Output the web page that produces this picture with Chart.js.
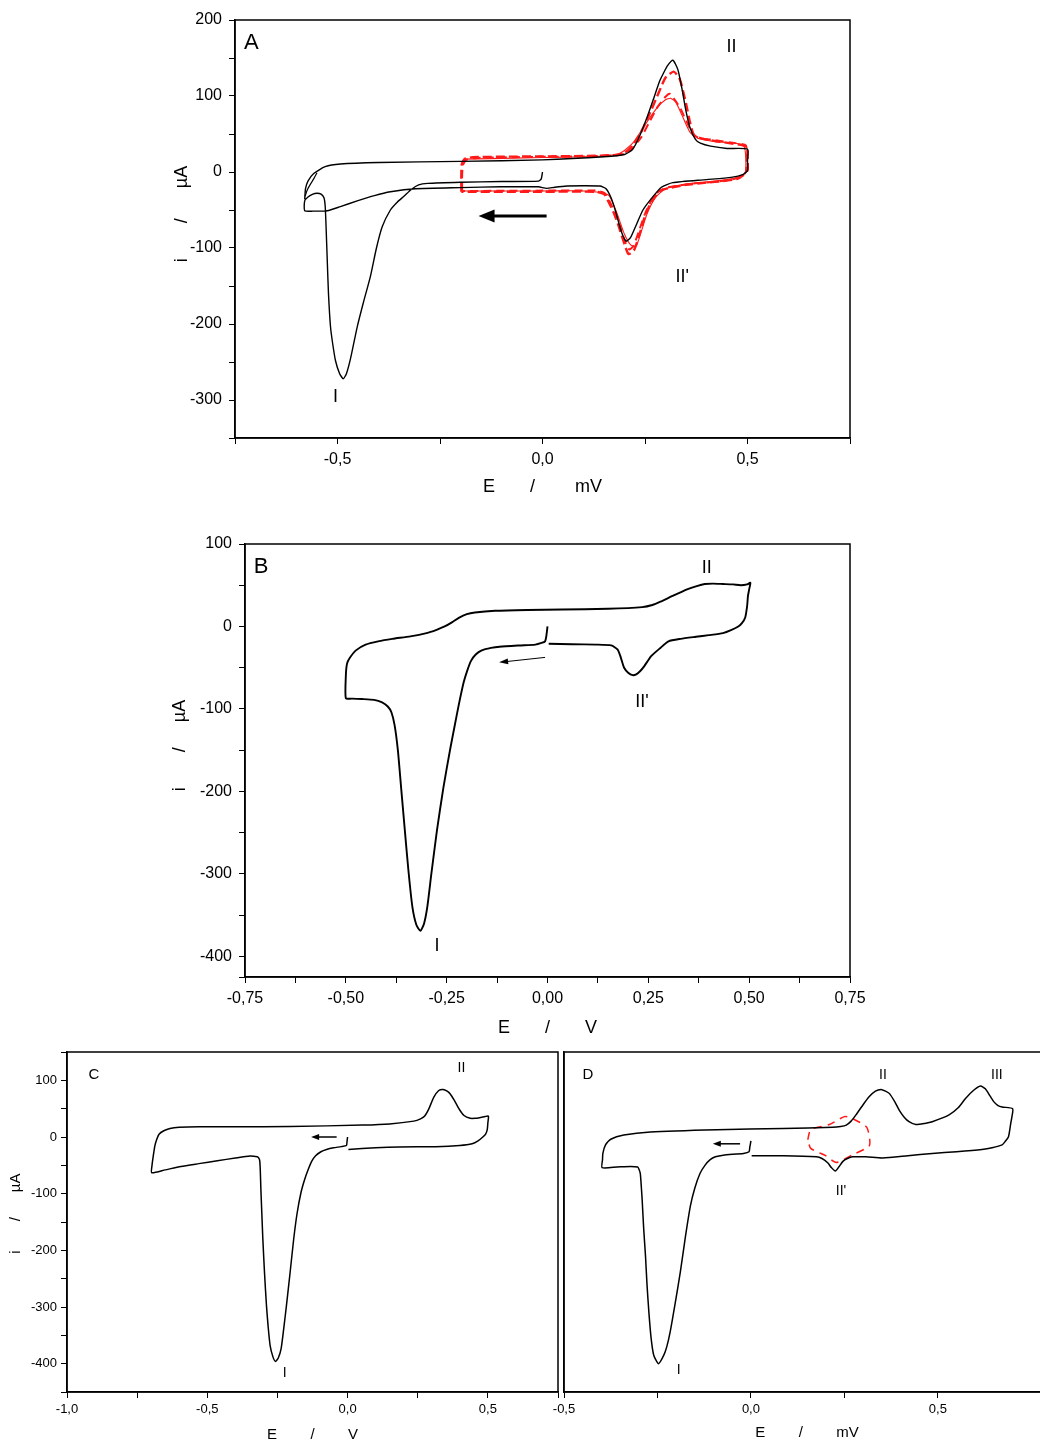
<!DOCTYPE html>
<html>
<head>
<meta charset="utf-8">
<script src="https://cdn.jsdelivr.net/npm/chart.js@4.4.1/dist/chart.umd.min.js"></script>
<style>
  html, body { margin: 0; padding: 0; background: #fff; overflow: hidden; width: 1040px; height: 1444px; }
  canvas { position: absolute; }
</style>
</head>
<body>
<canvas id="chartA" width="760" height="505" style="left:140px;top:0px"></canvas>
<canvas id="chartB" width="760" height="530" style="left:140px;top:520px"></canvas>
<canvas id="chartC" width="562" height="404" style="left:0px;top:1040px"></canvas>
<canvas id="chartD" width="515" height="404" style="left:545px;top:1040px"></canvas>
<script>
// Panel A - black trace (E in V, i in µA)
const aBlackE = [0, -0.003, -0.01, -0.1, -0.2, -0.28, -0.302, -0.32, -0.338, -0.355, -0.371, -0.391, -0.405, -0.42, -0.437, -0.452, -0.468, -0.478, -0.486, -0.495, -0.505, -0.512, -0.517, -0.522, -0.525, -0.528, -0.53, -0.533, -0.54, -0.55, -0.56, -0.572, -0.58, -0.58,
  -0.56, -0.525, -0.493, -0.452, -0.41, -0.371, -0.31, -0.2, -0.1, -0.01, 0.01, 0.03, 0.06, 0.1, 0.14, 0.155, 0.168, 0.18, 0.192, 0.204, 0.215, 0.23, 0.245, 0.264, 0.29, 0.318, 0.4, 0.46, 0.49, 0.5, 0.5, 0.5,
  0.45, 0.41, 0.385, 0.373, 0.36, 0.35, 0.34, 0.33, 0.318, 0.305, 0.295, 0.286, 0.27, 0.253, 0.235, 0.22, 0.2, 0.15, 0.0, -0.2, -0.4, -0.493, -0.53, -0.558, -0.572, -0.578, -0.58];
const aBlackI = [0, -9, -12, -12.5, -13.5, -15, -17, -23, -32, -40, -50, -72, -100, -138, -172, -204, -245, -265, -272, -265, -248, -225, -204, -160, -116, -70, -45, -34, -29, -28, -29, -33, -38, -51,
  -51.5, -51, -45.5, -38, -31, -26, -22, -20.5, -19.5, -19.5, -21.5, -20, -18.5, -18, -18.5, -22, -35, -55, -78, -91, -86, -68, -50, -36, -20, -14, -10, -7, -3, 2, 15, 30,
  31, 34, 38, 43, 58, 80, 110, 135, 147, 140, 130, 120, 95, 69, 45, 30, 23, 20, 16, 14, 12.5, 10.5, 7, -2, -12, -22, -36];
const aBlack2E = [-0.55, -0.557, -0.566, -0.574, -0.579];
const aBlack2I = [-1, -8, -16, -24, -32];

// Panel A - red repeated cycles
const aRed1E = [-0.198, -0.198, -0.197, -0.19, -0.17, 0.0, 0.1, 0.18, 0.2, 0.22, 0.24, 0.26, 0.28, 0.3, 0.32, 0.335, 0.35, 0.36, 0.37, 0.39, 0.43, 0.48, 0.498, 0.5, 0.5, 0.49, 0.475, 0.44, 0.4, 0.35, 0.32, 0.29, 0.275, 0.26, 0.247, 0.235, 0.223, 0.21, 0.2, 0.185, 0.174, 0.16, 0.15, 0.13, 0.0, -0.198];
const aRed1I = [-26, -5, 10, 17, 19.5, 20.5, 21, 22.5, 25, 35, 52, 75, 100, 124, 132, 122, 90, 65, 48, 44, 40, 36, 33, 20, 2, -4, -9, -12, -14, -17, -20, -24, -32, -45, -63, -85, -103, -108, -95, -70, -54, -38, -29, -26, -26, -26];
const aRed2E = [-0.196, -0.196, -0.194, -0.186, -0.16, 0.0, 0.1, 0.18, 0.2, 0.22, 0.24, 0.26, 0.28, 0.3, 0.31, 0.32, 0.335, 0.35, 0.365, 0.38, 0.42, 0.47, 0.496, 0.498, 0.496, 0.485, 0.46, 0.42, 0.37, 0.33, 0.3, 0.28, 0.265, 0.25, 0.235, 0.222, 0.212, 0.2, 0.19, 0.178, 0.165, 0.152, 0.13, 0.0, -0.196];
const aRed2I = [-25, -4, 9, 16, 18.5, 20, 20.5, 22, 24, 32, 45, 65, 85, 99, 103, 97, 85, 68, 52, 45, 42, 38, 35, 18, 0, -6, -10, -13, -15, -18, -21, -27, -38, -55, -78, -97, -102, -90, -72, -55, -40, -28, -24.5, -24.5, -25];
const aRed3E = [-0.19, 0.0, 0.15, 0.19, 0.22, 0.25, 0.28, 0.3, 0.312, 0.325, 0.34, 0.36, 0.38, 0.42, 0.49, 0.495, 0.48, 0.42, 0.35, 0.3, 0.275, 0.255, 0.24, 0.228, 0.215, 0.2, 0.18, 0.16, 0.1, 0.0, -0.19];
const aRed3I = [17, 19, 21, 25, 38, 62, 85, 95, 97, 92, 75, 52, 44, 40, 35, 0, -7, -12, -16, -22, -34, -55, -80, -98, -96, -82, -52, -30, -25, -25, -25];

// Panel B
const bE = [0, -0.003, -0.006, -0.015, -0.03, -0.07, -0.119, -0.14, -0.163, -0.178, -0.19, -0.2, -0.208, -0.22, -0.23, -0.241, -0.258, -0.274, -0.288, -0.298, -0.306, -0.315, -0.325, -0.335, -0.345, -0.355, -0.363, -0.371, -0.379, -0.387, -0.396, -0.41, -0.43, -0.46, -0.485, -0.5,
  -0.5, -0.497, -0.49, -0.475, -0.451, -0.42, -0.385, -0.34, -0.3, -0.275, -0.255, -0.237, -0.22, -0.2, -0.18, -0.13, -0.05, 0.036, 0.15, 0.235, 0.26, 0.28, 0.31, 0.346, 0.37, 0.39, 0.41, 0.435, 0.46, 0.479, 0.495, 0.503,
  0.5, 0.497, 0.495, 0.49, 0.482, 0.473, 0.455, 0.435, 0.4, 0.368, 0.33, 0.3, 0.28, 0.257, 0.24, 0.23, 0.22, 0.211, 0.2, 0.19, 0.182, 0.174, 0.158, 0.12, 0.06, 0.003];
const bI = [0, -12, -18, -20, -22, -23, -24.5, -26, -29, -34, -42, -55, -68, -95, -120, -148, -195, -247, -300, -340, -360, -369, -362, -340, -295, -240, -195, -150, -120, -104, -97, -92, -89, -88, -87.5, -87,
  -60, -45, -38, -29, -22, -18, -15, -12, -8, -4, 0, 5, 10.5, 15, 17, 19, 20, 20.5, 21.5, 23.5, 26, 30, 37, 45, 49, 51.5, 52, 51.5, 51, 50, 51, 53,
  45, 37, 25, 10.5, 4, 0, -4.5, -8, -10.5, -12.5, -15, -18, -26, -36, -48, -54, -58, -59, -56, -50, -38, -28, -23, -22, -21.5, -21];

// Panel C
const cE = [0, -0.002, -0.004, -0.023, -0.05, -0.075, -0.095, -0.114, -0.128, -0.14, -0.153, -0.166, -0.18, -0.192, -0.205, -0.218, -0.228, -0.237, -0.247, -0.257, -0.266, -0.276, -0.283, -0.289, -0.296, -0.302, -0.306, -0.309, -0.311, -0.313, -0.317, -0.322, -0.348, -0.4, -0.464, -0.53, -0.594, -0.65, -0.698,
  -0.697, -0.693, -0.687, -0.68, -0.672, -0.655, -0.633, -0.6, -0.529, -0.4, -0.205, 0.054, 0.15, 0.236, 0.26, 0.275, 0.29, 0.307, 0.325, 0.34, 0.355, 0.366, 0.38, 0.398, 0.415, 0.437, 0.455, 0.47, 0.49, 0.502,
  0.5, 0.498, 0.492, 0.482, 0.465, 0.444, 0.4, 0.314, 0.184, 0.1, 0.003];
const cI = [0, -8, -15, -17, -19, -22, -26, -33, -43, -57, -75, -98, -135, -180, -240, -298, -340, -374, -390, -396, -388, -368, -335, -298, -240, -180, -130, -92, -60, -42, -37, -35, -33.5, -37, -42, -47, -52, -58, -63,
  -50, -35, -16, -4, 5, 11, 15, 17, 18, 18, 18.5, 21, 23, 28, 32, 37, 50, 70, 82, 84, 81, 76, 65, 49, 38, 33, 33, 34, 36, 37,
  25, 13.5, 5, 0, -7, -12, -15, -17, -17.5, -19, -22];

// Panel D
const dE = [0, -0.003, -0.005, -0.02, -0.074, -0.095, -0.109, -0.123, -0.136, -0.15, -0.162, -0.175, -0.189, -0.203, -0.216, -0.225, -0.233, -0.247, -0.26, -0.267, -0.273, -0.278, -0.282, -0.287, -0.291, -0.294, -0.296, -0.3, -0.303, -0.322, -0.358, -0.398,
  -0.397, -0.396, -0.389, -0.375, -0.34, -0.269, -0.091, 0.086, 0.219, 0.24, 0.255, 0.268, 0.281, 0.3, 0.316, 0.333, 0.348, 0.36, 0.37, 0.385, 0.397, 0.41, 0.423, 0.441, 0.465, 0.485, 0.53, 0.555, 0.574, 0.595, 0.614, 0.627, 0.64, 0.65, 0.66, 0.672, 0.7,
  0.698, 0.695, 0.689, 0.68, 0.672, 0.645, 0.618, 0.55, 0.485, 0.42, 0.352, 0.308, 0.272, 0.258, 0.246, 0.235, 0.226, 0.215, 0.206, 0.19, 0.175, 0.086, 0.002];
const dI = [-7, -18, -26, -29, -32, -35, -40, -50, -64, -90, -122, -175, -239, -295, -344, -370, -385, -400, -385, -355, -309, -260, -210, -160, -110, -80, -64, -56, -53, -52, -53, -54,
  -40, -29, -14, -4, 3.5, 9, 13, 15, 17, 18.5, 21, 28, 39, 57, 71, 81, 84, 81, 77, 62, 47, 35, 27, 22, 24, 27, 39, 52, 68, 82, 90, 85, 72, 62, 56, 53, 50,
  35, 24, 0.6, -8, -14, -19, -22, -26, -29, -33, -37, -35, -35, -38, -43, -53, -60, -54, -46, -38, -35, -33, -33];
const dRedE = [0.152, 0.16, 0.21, 0.25, 0.27, 0.31, 0.317, 0.27, 0.228, 0.2, 0.16, 0.152];
const dRedI = [-5, 13, 22, 36, 33, 17, -15, -32, -45, -33, -20, -5];

// labelled tick values
const aXLabels = [-0.5, 0, 0.5];
const aYLabels = [200, 100, 0, -100, -200, -300];
const bXLabels = [-0.75, -0.5, -0.25, 0, 0.25, 0.5, 0.75];
const bYLabels = [100, 0, -100, -200, -300, -400];
const cXLabels = [-1, -0.5, 0, 0.5];
const cYLabels = [100, 0, -100, -200, -300, -400];
const dXLabels = [-0.5, 0, 0.5];

const FONT = '"Liberation Sans", Arial, sans-serif';

function pts(es, is) {
    return es.map((e, k) => ({ x: e, y: is[k] }));
}

function fmt(v, labels, dec) {
    if (!labels.some(l => Math.abs(l - v) < 1e-6)) return '';
    if (Math.abs(v) < 1e-9) v = 0;
    if (dec === null) return String(Math.round(v));
    return v.toFixed(dec).replace('.', ',');
}

function line(es, is, color, width, dash) {
    return {
        data: pts(es, is),
        showLine: true,
        borderColor: color,
        borderWidth: width,
        borderDash: dash || [],
        pointRadius: 0,
        tension: 0.2,
        fill: false
    };
}

function axis(o) {
    return {
        type: 'linear',
        position: o.pos,
        min: o.min,
        max: o.max,
        afterFit: function (s) {
            if (o.pos === 'bottom') s.height = o.size; else s.width = o.size;
        },
        ticks: {
            display: o.labels !== null,
            stepSize: o.step,
            autoSkip: false,
            maxRotation: 0,
            color: '#000',
            padding: o.tpad,
            font: { family: FONT, size: o.fs },
            callback: v => o.labels ? fmt(v, o.labels, o.dec) : ''
        },
        grid: { drawOnChartArea: false, drawTicks: o.ticks !== false, tickLength: 6, color: '#000', lineWidth: 1 },
        border: { display: true, color: '#000', width: 1.5 },
        title: {
            display: !!o.title,
            text: o.title || '',
            color: '#000',
            font: { family: FONT, size: o.tfs },
            padding: { top: o.tpt || 0, bottom: o.tpb || 0 }
        }
    };
}

// Rahmen, Beschriftungen und Pfeile
const panelMarks = {
    id: 'panelMarks',
    afterDraw(chart, args, opts) {
        const ctx = chart.ctx;
        const xs = chart.scales.x, ys = chart.scales.y;
        const area = chart.chartArea;
        ctx.save();
        ctx.strokeStyle = '#000';
        ctx.fillStyle = '#000';
        ctx.lineWidth = 1.5;
        ctx.strokeRect(area.left, area.top, area.right - area.left, area.bottom - area.top);
        ctx.textAlign = 'center';
        ctx.textBaseline = 'middle';
        (opts.texts || []).forEach(t => {
            ctx.font = t.size + 'px ' + FONT;
            ctx.fillText(t.text, xs.getPixelForValue(t.e), ys.getPixelForValue(t.i));
        });
        (opts.arrows || []).forEach(a => {
            const x0 = xs.getPixelForValue(a.e0), y0 = ys.getPixelForValue(a.i0);
            const x1 = xs.getPixelForValue(a.e1), y1 = ys.getPixelForValue(a.i1);
            const ang = Math.atan2(y1 - y0, x1 - x0);
            const c = Math.cos(ang), s = Math.sin(ang);
            ctx.lineWidth = a.width;
            ctx.beginPath();
            ctx.moveTo(x0, y0);
            ctx.lineTo(x1 - c * a.head * 0.8, y1 - s * a.head * 0.8);
            ctx.stroke();
            ctx.beginPath();
            ctx.moveTo(x1, y1);
            ctx.lineTo(x1 - a.head * c + a.half * s, y1 - a.head * s - a.half * c);
            ctx.lineTo(x1 - a.head * c - a.half * s, y1 - a.head * s + a.half * c);
            ctx.closePath();
            ctx.fill();
        });
        ctx.restore();
    }
};
Chart.register(panelMarks);

function makeChart(id, datasets, padding, x, y, marks) {
    return new Chart(document.getElementById(id), {
        type: 'scatter',
        data: { datasets: datasets },
        options: {
            responsive: false,
            animation: false,
            devicePixelRatio: 1,
            layout: { padding: padding },
            plugins: { legend: { display: false }, tooltip: { enabled: false }, panelMarks: marks },
            scales: { x: x, y: y }
        }
    });
}

// Panel A
makeChart('chartA', [
    line(aBlackE, aBlackI, '#000', 1.4),
    line(aBlack2E, aBlack2I, '#000', 1.2),
    line(aRed3E, aRed3I, '#ff1a1a', 1.1),
    line(aRed2E, aRed2I, '#ff1a1a', 2, [8, 5]),
    line(aRed1E, aRed1I, '#ff1a1a', 2.4, [9, 4])
], { left: 0, top: 20, right: 50, bottom: 0 },
    axis({ pos: 'bottom', min: -0.75, max: 0.75, step: 0.25, labels: aXLabels, dec: 1, fs: 16, tpad: 6, size: 67,
        title: 'E       /        mV', tfs: 18, tpb: 7 }),
    axis({ pos: 'left', min: -350, max: 200, step: 50, labels: aYLabels, dec: null, fs: 16, tpad: 7, size: 95,
        title: '      i       /      µA', tfs: 18, tpt: 31 }),
    {
        texts: [
            { text: 'A', e: -0.71, i: 170, size: 22 },
            { text: 'II', e: 0.461, i: 164, size: 18 },
            { text: "II'", e: 0.341, i: -138, size: 18 },
            { text: 'I', e: -0.505, i: -296, size: 18 }
        ],
        arrows: [{ e0: 0.01, i0: -58, e1: -0.156, i1: -58, width: 3, head: 16, half: 6.5 }]
    });

// Panel B
makeChart('chartB', [
    line(bE, bI, '#000', 1.9)
], { left: 0, top: 24, right: 50, bottom: 0 },
    axis({ pos: 'bottom', min: -0.75, max: 0.75, step: 0.125, labels: bXLabels, dec: 2, fs: 16, tpad: 6, size: 73,
        title: 'E       /       V', tfs: 18, tpb: 11 }),
    axis({ pos: 'left', min: -425, max: 100, step: 50, labels: bYLabels, dec: null, fs: 16, tpad: 7, size: 105,
        title: '      i       /     µA', tfs: 18, tpt: 29 }),
    {
        texts: [
            { text: 'B', e: -0.71, i: 72.6, size: 22 },
            { text: 'II', e: 0.395, i: 71, size: 18 },
            { text: "II'", e: 0.234, i: -92, size: 18 },
            { text: 'I', e: -0.274, i: -387, size: 18 }
        ],
        arrows: [{ e0: -0.006, i0: -37.5, e1: -0.12, i1: -43.5, width: 1, head: 9, half: 3 }]
    });

// Panel C
makeChart('chartC', [
    line(cE, cI, '#000', 1.5)
], { left: 0, top: 12, right: 4, bottom: 0 },
    axis({ pos: 'bottom', min: -1, max: 0.75, step: 0.25, labels: cXLabels, dec: 1, fs: 13, tpad: 4, size: 52,
        title: 'E        /        V', tfs: 15, tpb: 0 }),
    axis({ pos: 'left', min: -450, max: 150, step: 50, labels: cYLabels, dec: null, fs: 13, tpad: 4, size: 67,
        title: '    i       /      µA', tfs: 15, tpt: 7 }),
    {
        texts: [
            { text: 'C', e: -0.904, i: 109, size: 15 },
            { text: 'II', e: 0.406, i: 121, size: 14 },
            { text: 'I', e: -0.224, i: -416, size: 14 }
        ],
        arrows: [{ e0: -0.039, i0: 0, e1: -0.13, i1: 0, width: 1.5, head: 8, half: 3 }]
    });

// Panel D
makeChart('chartD', [
    line(dE, dI, '#000', 1.5),
    line(dRedE, dRedI, '#ff1a1a', 1.5, [8, 6])
], { left: 0, top: 12, right: 10, bottom: 0 },
    axis({ pos: 'bottom', min: -0.5, max: 0.8, step: 0.25, labels: dXLabels, dec: 1, fs: 13, tpad: 4, size: 52,
        title: 'E        /        mV', tfs: 15, tpb: 2 }),
    axis({ pos: 'left', min: -450, max: 150, step: 50, labels: null, ticks: false, fs: 13, tpad: 0, size: 19 }),
    {
        texts: [
            { text: 'D', e: -0.436, i: 109, size: 15 },
            { text: 'II', e: 0.353, i: 109, size: 14 },
            { text: 'III', e: 0.658, i: 110, size: 14 },
            { text: "II'", e: 0.241, i: -96, size: 14 },
            { text: 'I', e: -0.193, i: -412, size: 14 }
        ],
        arrows: [{ e0: -0.029, i0: -12, e1: -0.102, i1: -12, width: 1.5, head: 8, half: 3 }]
    });
</script>
</body>
</html>
